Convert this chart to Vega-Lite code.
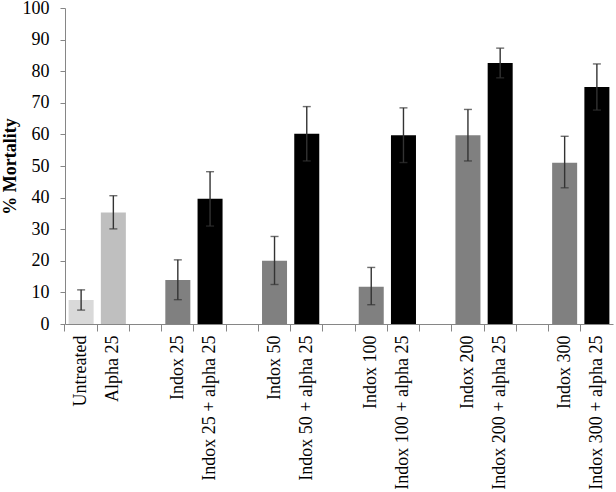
{
  "$schema": "https://vega.github.io/schema/vega-lite/v6.json",
  "width": 548,
  "height": 316,
  "autosize": "none",
  "padding": {"left": 65, "top": 8, "right": 3, "bottom": 168},
  "background": "white",
  "config": {
    "view": {"stroke": null},
    "font": "Liberation Serif",
    "axisY": {
      "tickCount": 11,
      "labelOverlap": false,
      "grid": false,
      "labelFontSize": 18,
      "labelColor": "black",
      "labelPadding": 11,
      "tickSize": 5,
      "tickColor": "#868686",
      "domainColor": "#868686",
      "titleFontSize": 18,
      "titleFontWeight": "bold",
      "titleColor": "black",
      "titlePadding": 3
    }
  },
  "data": {
    "values": [
      {"label": "Untreated", "group": "untreated", "value": 7.6, "lo": 4.4, "hi": 10.8},
      {"label": "Alpha 25", "group": "alpha", "value": 35.3, "lo": 30.1, "hi": 40.6},
      {"label": "Indox 25", "group": "indox", "value": 13.9, "lo": 7.7, "hi": 20.3},
      {"label": "Indox 25 + alpha 25", "group": "combo", "value": 39.6, "lo": 31.0, "hi": 48.2},
      {"label": "Indox 50", "group": "indox", "value": 20.0, "lo": 12.5, "hi": 27.7},
      {"label": "Indox 50 + alpha 25", "group": "combo", "value": 60.2, "lo": 51.6, "hi": 68.8},
      {"label": "Indox 100", "group": "indox", "value": 11.8, "lo": 6.1, "hi": 17.9},
      {"label": "Indox 100 + alpha 25", "group": "combo", "value": 59.7, "lo": 51.1, "hi": 68.4},
      {"label": "Indox 200", "group": "indox", "value": 59.7, "lo": 51.6, "hi": 67.9},
      {"label": "Indox 200 + alpha 25", "group": "combo", "value": 82.6, "lo": 77.9, "hi": 87.3},
      {"label": "Indox 300", "group": "indox", "value": 51.0, "lo": 43.1, "hi": 59.4},
      {"label": "Indox 300 + alpha 25", "group": "combo", "value": 75.0, "lo": 67.7, "hi": 82.3}
    ]
  },
  "layer": [
    {
      "mark": {"type": "bar"},
      "encoding": {
        "x": {
          "field": "label",
          "type": "nominal",
          "title": null,
          "sort": null,
          "scale": {
            "domain": ["Untreated", "Alpha 25", "gap1", "Indox 25", "Indox 25 + alpha 25", "gap2", "Indox 50", "Indox 50 + alpha 25", "gap3", "Indox 100", "Indox 100 + alpha 25", "gap4", "Indox 200", "Indox 200 + alpha 25", "gap5", "Indox 300", "Indox 300 + alpha 25"],
            "paddingInner": 0.224,
            "paddingOuter": 0.112
          },
          "axis": {
            "labelAngle": -90,
            "labelAlign": "right",
            "labelBaseline": "middle",
            "labelFontSize": 18,
            "labelColor": "black",
            "labelPadding": 4,
            "labelLimit": 300,
            "labelOverlap": false,
            "bandPosition": -0.1445,
            "tickSize": 7,
            "tickColor": "#868686",
            "domainColor": "#868686",
            "labelExpr": "indexof(datum.value, 'gap') == 0 ? '' : datum.value"
          }
        },
        "y": {
          "field": "value",
          "type": "quantitative",
          "title": "% Mortality",
          "scale": {"domain": [0, 100]},
          "axis": {
            "values": [0, 10, 20, 30, 40, 50, 60, 70, 80, 90, 100],
            "labelOverlap": false,
            "tickCount": 11
          }
        },
        "color": {
          "field": "group",
          "type": "nominal",
          "legend": null,
          "scale": {
            "domain": ["untreated", "alpha", "indox", "combo"],
            "range": ["#d9d9d9", "#bfbfbf", "#808080", "#000000"]
          }
        }
      }
    },
    {
      "mark": {"type": "rule", "color": "#333333", "strokeWidth": 1.4},
      "encoding": {
        "x": {"field": "label", "type": "nominal", "sort": null},
        "y": {"field": "lo", "type": "quantitative", "title": "% Mortality", "axis": {"values": [0, 10, 20, 30, 40, 50, 60, 70, 80, 90, 100], "labelOverlap": false, "tickCount": 11}},
        "y2": {"field": "hi"}
      }
    },
    {
      "mark": {"type": "tick", "color": "#333333", "thickness": 1.4, "size": 8},
      "encoding": {
        "x": {"field": "label", "type": "nominal", "sort": null},
        "y": {"field": "hi", "type": "quantitative", "title": "% Mortality", "axis": {"values": [0, 10, 20, 30, 40, 50, 60, 70, 80, 90, 100], "labelOverlap": false, "tickCount": 11}}
      }
    },
    {
      "mark": {"type": "tick", "color": "#333333", "thickness": 1.4, "size": 8},
      "encoding": {
        "x": {"field": "label", "type": "nominal", "sort": null},
        "y": {"field": "lo", "type": "quantitative", "title": "% Mortality", "axis": {"values": [0, 10, 20, 30, 40, 50, 60, 70, 80, 90, 100], "labelOverlap": false, "tickCount": 11}}
      }
    }
  ]
}
